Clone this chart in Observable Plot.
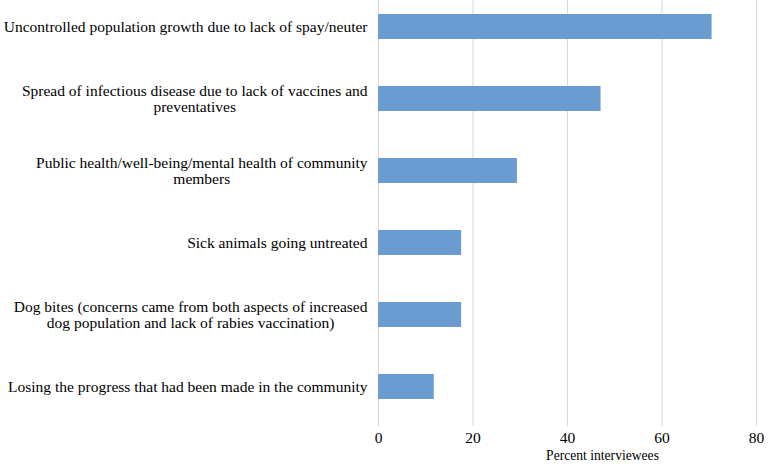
<!DOCTYPE html>
<html>
<head>
<meta charset="utf-8">
<script src="https://cdn.jsdelivr.net/npm/d3@7"></script>
<script src="https://cdn.jsdelivr.net/npm/@observablehq/plot@0.6"></script>
<style>
  html, body { margin: 0; padding: 0; background: #fff; }
  svg { display: block; }
</style>
</head>
<body>
<div id="chart"></div>
<script>
const categories = [
  "Uncontrolled population growth due to lack of spay/neuter",
  "Spread of infectious disease due to lack of vaccines and\npreventatives",
  "Public health/well-being/mental health of community\nmembers",
  "Sick animals going untreated",
  "Dog bites (concerns came from both aspects of increased\ndog population and lack of rabies vaccination)",
  "Losing the progress that had been made in the community"
];
const values = [70.6, 47.1, 29.4, 17.6, 17.6, 11.8];
const xTicks = [0, 20, 40, 60, 80];
const xLabel = "Percent interviewees";

const data = categories.map((c, i) => ({category: c, value: values[i]}));

const FONT = "'Liberation Serif', 'Times New Roman', serif";
const FS = 15.5;
const canvas = document.createElement("canvas");
const ctx = canvas.getContext("2d");
ctx.font = `${FS}px 'Liberation Serif'`;
const blockWidth = s => Math.max(...s.split("\n").map(l => ctx.measureText(l).width));

const labelMarks = categories.map(c =>
  Plot.text([c], {
    y: d => d,
    text: d => d,
    frameAnchor: "left",
    textAnchor: "middle",
    lineHeight: 16 / FS,
    dx: -(11 + blockWidth(c) / 2),
    fill: "#000",
    fontSize: FS,
    fontFamily: FONT
  })
);

const chart = Plot.plot({
  width: 768,
  height: 466,
  marginLeft: 378,
  marginRight: 12,
  marginTop: 0,
  marginBottom: 40,
  style: {fontFamily: FONT, fontSize: FS + "px", color: "#000", background: "#fff"},
  x: {domain: [0, 80], ticks: xTicks, label: null},
  y: {domain: categories, range: [0, 414], paddingInner: 0.65, paddingOuter: 0.168, axis: null},
  marks: [
    Plot.ruleX(xTicks, {stroke: "#d9d9d9", strokeWidth: 1}),
    Plot.barX(data, {x: "value", y: "category", fill: "#6a9bd1"}),
    Plot.axisX({ticks: xTicks, tickSize: 0, tickPadding: 5, fontSize: 15.5, fontFamily: FONT, label: null}),
    ...labelMarks,
    Plot.text([xLabel], {text: d => d, frameAnchor: "bottom", dx: 35, dy: 33, fontSize: 13.6, fontFamily: FONT, fill: "#000"})
  ]
});
document.getElementById("chart").appendChild(chart);
</script>
</body>
</html>
